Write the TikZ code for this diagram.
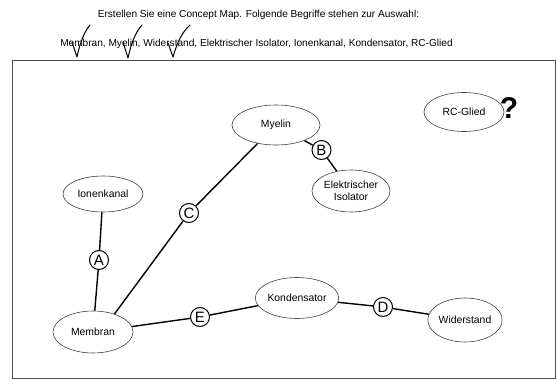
\documentclass[tikz,border=0pt]{standalone}
\usepackage{fontspec}
\setmainfont{Liberation Sans}
\usetikzlibrary{shapes.geometric}
\begin{document}
\begin{tikzpicture}[x=1pt,y=-1pt,
  concept/.style={ellipse,draw=black!75,line width=0.6pt,inner sep=0pt,font=\fontsize{10.4}{12}\selectfont,align=center},
  letter/.style={circle,draw=black,line width=1pt,fill=white,inner sep=0pt,minimum size=19pt,font=\fontsize{15}{15}\selectfont},
  link/.style={line width=1.4pt,black},
  tick/.style={line width=1pt,line cap=round,line join=round}]
\useasboundingbox (0,0) rectangle (558,380);
\node[draw=black!70,line width=0.8pt,minimum width=543pt,minimum height=318pt,inner sep=0pt,anchor=north west] (frame) at (12,60) {};
\node[font=\fontsize{10.1}{12}\selectfont] (title) at (258.5,15) {Erstellen Sie eine Concept Map. Folgende Begriffe stehen zur Auswahl:};
\node[font=\fontsize{10.1}{12}\selectfont] (list) at (256.5,44) {Membran, Myelin, Widerstand, Elektrischer Isolator, Ionenkanal, Kondensator, RC-Glied};
% check marks
\draw[tick] (72,42) -- (77,57) .. controls (80,43) and (84,32) .. (90,25);
\draw[tick] (123,42) -- (128,58) .. controls (131,44) and (135,33) .. (142,25);
\draw[tick] (168,43) -- (173,57) .. controls (177,43) and (182,32) .. (190,25);
% concepts
\node[concept,minimum width=88pt,minimum height=40pt] (myelin) at (276,125) {Myelin};
\node[concept,minimum width=80pt,minimum height=39pt] (rc) at (464,112) {RC-Glied};
\node[font=\bfseries\fontsize{30}{30}\selectfont,inner sep=0pt] (q) at (509,108) {?};
\node[concept,minimum width=78pt,minimum height=42pt] (iso) at (351,191) {Elektrischer\\Isolator};
\node[concept,minimum width=80pt,minimum height=36pt] (ion) at (103,194) {Ionenkanal};
\node[concept,minimum width=80pt,minimum height=42pt] (mem) at (93,332) {Membran};
\node[concept,minimum width=80pt,minimum height=41pt] (kon) at (297,298) {Kondensator};
\node[concept,minimum width=73pt,minimum height=44pt] (wid) at (465,320) {Widerstand};
% letters
\node[letter] (A) at (99,260) {A};
\node[letter] (B) at (321.5,150) {B};
\node[letter] (C) at (189,213) {C};
\node[letter] (D) at (383,307) {D};
\node[letter] (E) at (200,317) {E};
% links
\draw[link] (ion) -- (A);
\draw[link] (A) -- (mem);
\draw[link] (myelin) -- (B);
\draw[link] (B) -- (iso);
\draw[link] (myelin.225) -- (C);
\draw[link] (C) -- (mem.40);
\draw[link] (mem) -- (E);
\draw[link] (E) -- (kon);
\draw[link] (kon) -- (D);
\draw[link] (D) -- (wid);
\end{tikzpicture}
\end{document}
